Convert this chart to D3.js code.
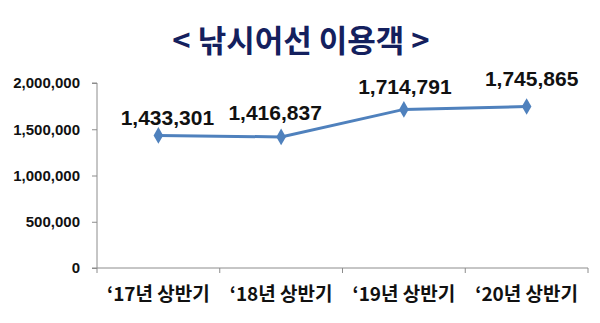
<!DOCTYPE html>
<html><head><meta charset="utf-8">
<script src="https://cdn.jsdelivr.net/npm/d3@7"></script>
<style>body{margin:0;background:#fff}</style>
</head><body>
<svg id="c" width="600" height="323"></svg>
<script>
const title = "< 낚시어선 이용객 >";
const categories = ["‘17년 상반기", "‘18년 상반기", "‘19년 상반기", "‘20년 상반기"];
const values = [1433301, 1416837, 1714791, 1745865];
const yTicks = [0, 500000, 1000000, 1500000, 2000000];

(function () {
const svg = d3.select("#c");
const mL = 97, mR = 588, mT = 83, mB = 268;
const x = d3.scaleBand().domain(categories).range([mL, mR]);
const y = d3.scaleLinear().domain([0, 2000000]).range([mB, mT]);
const fmt = d3.format(",");
const axisColor = "#8c8c8c";
const fontK = "'Noto Sans CJK KR', 'Noto Sans', sans-serif";
const fontN = "'Liberation Sans', Arial, sans-serif";

svg.append("text").attr("x", 301).attr("y", 52).attr("text-anchor", "middle")
  .attr("font-family", fontK).attr("font-weight", "bold").attr("font-size", 31)
  .attr("fill", "#14205e").text(title);

const ya = svg.append("g").attr("transform", `translate(${mL},0)`)
  .call(d3.axisLeft(y).tickValues(yTicks).tickFormat(fmt).tickSize(5).tickPadding(12));
ya.select(".domain").attr("stroke", axisColor).attr("d", `M-5,${mT}H0V${mB}H-5`);
ya.selectAll(".tick line").attr("stroke", axisColor);
ya.selectAll(".tick text").attr("font-family", fontN).attr("font-weight", "bold")
  .attr("font-size", 15).attr("fill", "#111");

const xa = svg.append("g").attr("transform", `translate(0,${mB})`)
  .call(d3.axisBottom(x).tickSize(0).tickPadding(20));
xa.select(".domain").attr("stroke", axisColor).attr("d", `M${mL},5V0H${mR}V5`);
xa.selectAll(".tick text").attr("font-family", fontK).attr("font-weight", "bold")
  .attr("font-size", 19).attr("fill", "#111");
xa.selectAll(".sep").data(categories.slice(1)).enter().append("line")
  .attr("x1", d => x(d)).attr("x2", d => x(d)).attr("y1", 0).attr("y2", 5)
  .attr("stroke", axisColor);

const cx = d => x(d) + x.bandwidth() / 2;
const line = d3.line().x((d, i) => cx(categories[i])).y(d => y(d));
svg.append("path").datum(values).attr("d", line).attr("fill", "none")
  .attr("stroke", "#4f81bd").attr("stroke-width", 3);

svg.selectAll(".pt").data(values).enter().append("path")
  .attr("d", d3.symbol(d3.symbolDiamond, 80)())
  .attr("transform", (d, i) => `translate(${cx(categories[i])},${y(d)})`)
  .attr("fill", "#4f81bd");

const labelDx = [9, -6, 1, 5];
const labelDy = [-10, -17, -15, -21];
svg.selectAll(".lbl").data(values).enter().append("text")
  .attr("x", (d, i) => cx(categories[i]) + labelDx[i])
  .attr("y", (d, i) => y(d) + labelDy[i])
  .attr("text-anchor", "middle").attr("font-family", fontN).attr("font-weight", "bold")
  .attr("font-size", 21).attr("fill", "#111").text(d => fmt(d));
})();
</script>
</body></html>
